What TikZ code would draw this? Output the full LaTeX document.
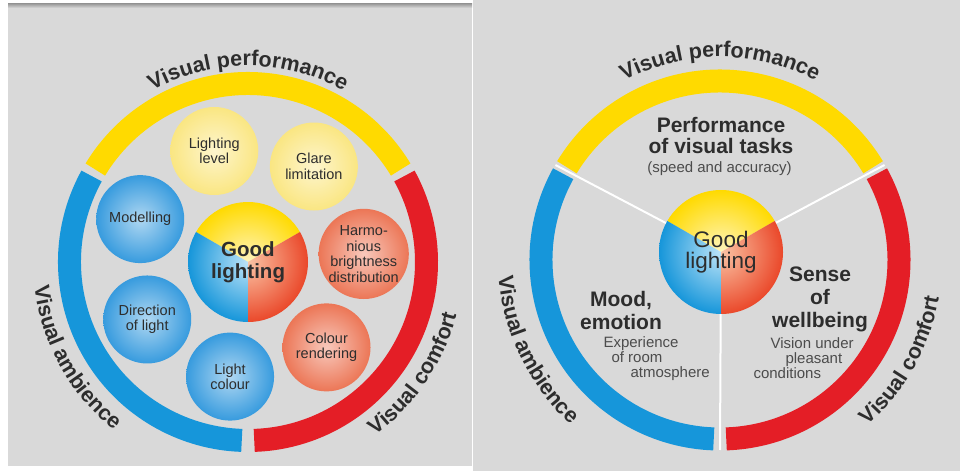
\documentclass[tikz,border=0pt]{standalone}
\usepackage{fontspec}
\setmainfont{Liberation Sans}
\usepackage{xcolor}
\usetikzlibrary{decorations.text,calc}

\definecolor{panelgray}{RGB}{217,217,217}
\definecolor{ringyellow}{RGB}{255,218,0}
\definecolor{ringblue}{RGB}{22,150,218}
\definecolor{ringred}{RGB}{228,30,38}
\definecolor{discred}{RGB}{234,72,42}
\definecolor{discredlight}{RGB}{250,196,165}
\definecolor{discbluelight}{RGB}{190,228,248}
\definecolor{discyellowlight}{RGB}{255,245,190}
\definecolor{bubyellow}{RGB}{250,230,130}
\definecolor{bubblue}{RGB}{55,155,222}
\definecolor{bubred}{RGB}{236,118,86}
\definecolor{inkgray}{RGB}{45,45,45}

\newcommand\arcfont{\fontsize{21.5}{21.5}\selectfont\bfseries}

\tikzset{
  ring/.style={line width=23pt},
  arclabel/.style={decorate, decoration={text along path, text align=center,
    text color=inkgray, text={|\arcfont|#1}}},
  bubble/.style={circle, minimum size=88pt, inner sep=0pt, align=center,
    text=inkgray, font=\fontsize{14.5}{15.5}\selectfont},
  spoke/.style={white, line width=2pt},
  bigtext/.style={align=center, text=inkgray, font=\fontsize{21}{23}\selectfont\bfseries},
  smalltext/.style={align=left, text=inkgray!85, font=\fontsize{15}{15}\selectfont},
}

\begin{document}
\begin{tikzpicture}[x=1pt,y=1pt]
  \useasboundingbox (0,0) rectangle (960,471);
  % panels
  \fill[white] (0,0) rectangle (960,471);
  \fill[panelgray] (8,5) rectangle (472,467);
  \shade[top color=gray!75, bottom color=panelgray] (8,463) rectangle (472,467);
  \fill[panelgray] (473,0) rectangle (960,471);

  % ================= left panel =================
  \coordinate (L) at (248,209);
  \def\rm{178.5}
  % outer ring, three arcs
  \draw[ring, ringyellow] ([shift={(31.2:\rm)}]L) arc[start angle=31.2, end angle=148.8, radius=\rm];
  \draw[ring, ringblue] ([shift={(151.2:\rm)}]L) arc[start angle=151.2, end angle=268, radius=\rm];
  \draw[ring, ringred] ([shift={(272:\rm)}]L) arc[start angle=272, end angle=388.8, radius=\rm];
  % ring labels
  \path[arclabel={Visual performance}] ([shift={(150:196)}]L) arc[start angle=150, end angle=30, radius=196];
  \path[arclabel={Visual ambience}] ([shift={(169:215)}]L) arc[start angle=169, end angle=249, radius=215];
  \path[arclabel={Visual comfort}] ([shift={(286:215)}]L) arc[start angle=286, end angle=366, radius=215];
  % seven criteria around the centre
  \foreach \ang/\col/\txt/\nm in {
      4/bubred/{Harmo-\\nious\\brightness\\distribution}/harm,
      55.4/bubyellow/{Glare\\limitation}/glare,
      106.9/bubyellow/{Lighting\\level}/level,
      158.3/bubblue/{Modelling}/model,
      209.7/bubblue/{Direction\\of light}/direct,
      261.1/bubblue/{Light\\colour}/lcolour,
      312.6/bubred/{Colour\\rendering}/render} {
    \node[bubble, inner color=\col!40!white, outer color=\col] (\nm) at ([shift={(\ang:116)}]L) {\txt};
  }
  % centre disc, three sectors
  \foreach \a/\b/\cin/\cout in {30/150/discyellowlight/ringyellow, 150/270/discbluelight/ringblue, 270/390/discredlight/discred} {
    \begin{scope}
      \clip (L) -- ([shift={(\a:60)}]L) arc[start angle=\a, end angle=\b, radius=60] -- cycle;
      \shade[inner color=\cin, outer color=\cout] (L) circle[radius=60];
    \end{scope}
  }
  \node[align=center, text=inkgray, font=\fontsize{20.5}{22}\selectfont\bfseries] (goodL) at (248,208.5) {Good\\lighting};

  % ================= right panel =================
  \coordinate (R) at (720,211);
  \coordinate (cR) at (721,219);
  \def\rr{179}
  \draw[ring, ringyellow] ([shift={(31.2:\rr)}]R) arc[start angle=31.2, end angle=148.8, radius=\rr];
  \draw[ring, ringblue] ([shift={(151.2:\rr)}]R) arc[start angle=151.2, end angle=268, radius=\rr];
  \draw[ring, ringred] ([shift={(272:\rr)}]R) arc[start angle=272, end angle=388.8, radius=\rr];
  % ring labels
  \path[arclabel={Visual performance}] ([shift={(150:203)}]R) arc[start angle=150, end angle=30, radius=203];
  \path[arclabel={Visual ambience}] ([shift={(166:222)}]R) arc[start angle=166, end angle=246, radius=222];
  \path[arclabel={Visual comfort}] ([shift={(291:222)}]R) arc[start angle=291, end angle=371, radius=222];
  % spokes to the gaps of the ring
  \coordinate (gapA) at ([shift={(150:190)}]R);
  \coordinate (gapB) at ([shift={(30:190)}]R);
  \coordinate (gapC) at ([shift={(270:190)}]R);
  \foreach \g in {gapA,gapB,gapC}
    \draw[spoke] (cR) -- (\g);
  % centre disc
  \foreach \a/\b/\cin/\cout in {30/150/discyellowlight/ringyellow, 150/270/discbluelight/ringblue, 270/390/discredlight/discred} {
    \begin{scope}
      \clip (cR) -- ([shift={(\a:62)}]cR) arc[start angle=\a, end angle=\b, radius=62] -- cycle;
      \shade[inner color=\cin, outer color=\cout] (cR) circle[radius=62];
    \end{scope}
  }
  \node[align=center, text=inkgray, font=\fontsize{22.5}{21}\selectfont] (goodR) at (cR) {Good\\lighting};
  % sector texts
  \node[bigtext, font=\fontsize{21}{21}\selectfont\bfseries] (perf) at (721,335.5) {Performance\\of visual tasks};
  \node[smalltext] (speed) at (719.5,302) {(speed and accuracy)};
  \node[bigtext] (mood) at (621,161) {Mood,\\emotion};
  \node[smalltext, anchor=west] (exper) at (600,112.5) {Experience\\\hspace*{8pt}of room\\\hspace*{27pt}atmosphere};
  \node[bigtext] (sense) at (820,172) {Sense\\of\\wellbeing};
  \node[smalltext, anchor=west] (vision) at (750,112.5) {\hspace*{17pt}Vision under\\\hspace*{32pt}pleasant\\conditions};
\end{tikzpicture}
\end{document}
